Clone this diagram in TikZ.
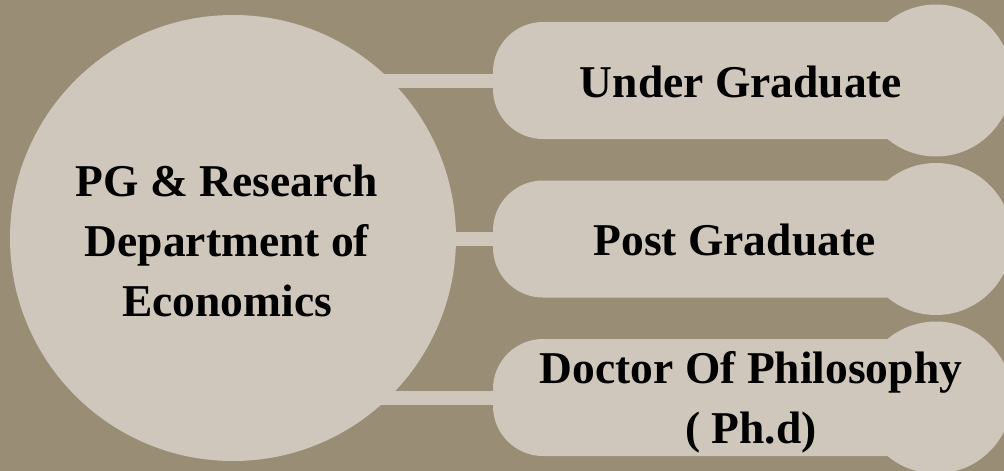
\documentclass[tikz,border=0pt]{standalone}
\usepackage{fontspec}
\setmainfont{Liberation Serif}
\definecolor{bgc}{RGB}{154,141,118}
\definecolor{lightc}{RGB}{207,199,187}
\pgfdeclarelayer{bg}
\pgfdeclarelayer{bars}
\pgfsetlayers{bg,bars,main}
\begin{document}
\begin{tikzpicture}[x=1pt,y=-1pt,
  lbl/.style={font=\bfseries\fontsize{45.5}{60}\selectfont, align=center, inner sep=0pt, text=black},
  pill/.style={fill=lightc, rounded corners=50pt, minimum width=443pt, minimum height=117pt, inner sep=0pt},
  endcap/.style={circle, fill=lightc, minimum size=152pt, inner sep=0pt},
  bigcirc/.style={circle, fill=lightc, minimum size=446pt, inner sep=0pt},
  bar/.style={draw=lightc, line width=14pt}]
\begin{pgfonlayer}{bg}
\fill[bgc] (0,0) rectangle (1004,471);
\end{pgfonlayer}
\useasboundingbox (0,0) rectangle (1004,471);
% central circle
\node[bigcirc] (dept) at (233,238) {};
\node[lbl] (depttext) at (227,241) {PG \& Research\\Department of\\Economics};
% pills
\node[pill] (ug) at (714.5,80.5) {};
\node[endcap] (ugc) at (936,80.5) {};
\node[lbl] (ugt) at (741,82) {Under Graduate};
\node[pill] (pg) at (714.5,239) {};
\node[endcap] (pgc) at (936,239) {};
\node[lbl] (pgt) at (734.5,240) {Post Graduate};
\node[pill] (phd) at (714.5,397.5) {};
\node[endcap] (phdc) at (936,397.5) {};
\node[lbl] (phdt) at (751,402) {Doctor Of Philosophy\\( Ph.d)};
% connectors
\begin{pgfonlayer}{bars}
\draw[bar] (ug.west) -- (ug.west -| dept.center);
\draw[bar] (pg.west) -- (pg.west -| dept.center);
\draw[bar] (phd.west) -- (phd.west -| dept.center);
\end{pgfonlayer}
\end{tikzpicture}
\end{document}
